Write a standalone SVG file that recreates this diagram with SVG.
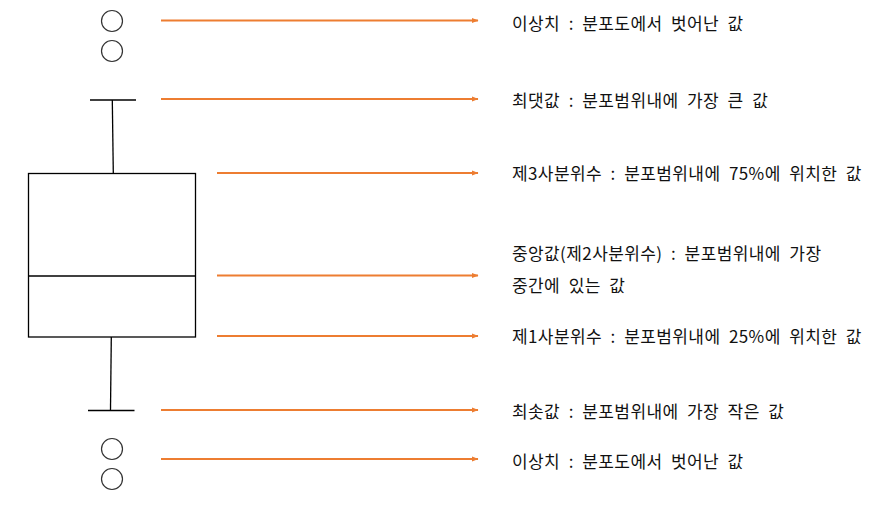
<svg xmlns="http://www.w3.org/2000/svg" width="882" height="509" viewBox="0 0 882 509">
<style>
.o{fill:none;stroke:#333;stroke-width:1.2}
.b{fill:none;stroke:#000;stroke-width:1.3}
.a{stroke:#ED7D31;stroke-width:2;fill:none;marker-end:url(#ah)}
text{font-family:"Noto Sans CJK KR","Noto Sans",sans-serif;font-size:17px;fill:#111;letter-spacing:0.4px;word-spacing:4.3px}
</style>
<defs>
<marker id="ah" markerWidth="7" markerHeight="6" refX="6" refY="3" orient="auto" markerUnits="userSpaceOnUse">
<path d="M0,0.5 L6.5,3 L0,5.5 Z" fill="#ED7D31"/>
</marker>
</defs>
<rect width="882" height="509" fill="#fff"/>
<g id="boxplot">
<circle class="o" cx="112" cy="21" r="10.5"/>
<circle class="o" cx="112" cy="51" r="10.5"/>
<line class="b" x1="90" y1="100" x2="136" y2="100"/>
<line class="b" x1="112.3" y1="100" x2="113.3" y2="173.5" stroke-width="1"/>
<rect class="b" x="28.5" y="173.5" width="167" height="163.5"/>
<line class="b" x1="28.5" y1="276" x2="195.5" y2="276"/>
<line class="b" x1="111.3" y1="337" x2="110.5" y2="410" stroke-width="1"/>
<line class="b" x1="88" y1="410.5" x2="134.5" y2="410.5"/>
<circle class="o" cx="112" cy="449" r="10.5"/>
<circle class="o" cx="112" cy="479" r="10.5"/>
</g>
<g id="connectors">
<line class="a" x1="161" y1="20.5" x2="478" y2="20.5"/>
<line class="a" x1="161" y1="99" x2="478" y2="99"/>
<line class="a" x1="217" y1="173" x2="478" y2="173"/>
<line class="a" x1="217" y1="275.5" x2="478" y2="275.5"/>
<line class="a" x1="217" y1="336" x2="478" y2="336"/>
<line class="a" x1="161" y1="410" x2="478" y2="410"/>
<line class="a" x1="161" y1="459" x2="478" y2="459"/>
</g>
<g id="label-outlier-top"><text x="512" y="30">이상치 : 분포도에서 벗어난 값</text></g>
<g id="label-max"><text x="512" y="107">최댓값 : 분포범위내에 가장 큰 값</text></g>
<g id="label-q3"><text x="512" y="180">제3사분위수 : 분포범위내에 75%에 위치한 값</text></g>
<g id="label-median"><text x="512" y="260">중앙값(제2사분위수) : 분포범위내에 가장</text><text x="512" y="292">중간에 있는 값</text></g>
<g id="label-q1"><text x="512" y="343">제1사분위수 : 분포범위내에 25%에 위치한 값</text></g>
<g id="label-min"><text x="512" y="418">최솟값 : 분포범위내에 가장 작은 값</text></g>
<g id="label-outlier-bottom"><text x="512" y="468">이상치 : 분포도에서 벗어난 값</text></g>
</svg>
